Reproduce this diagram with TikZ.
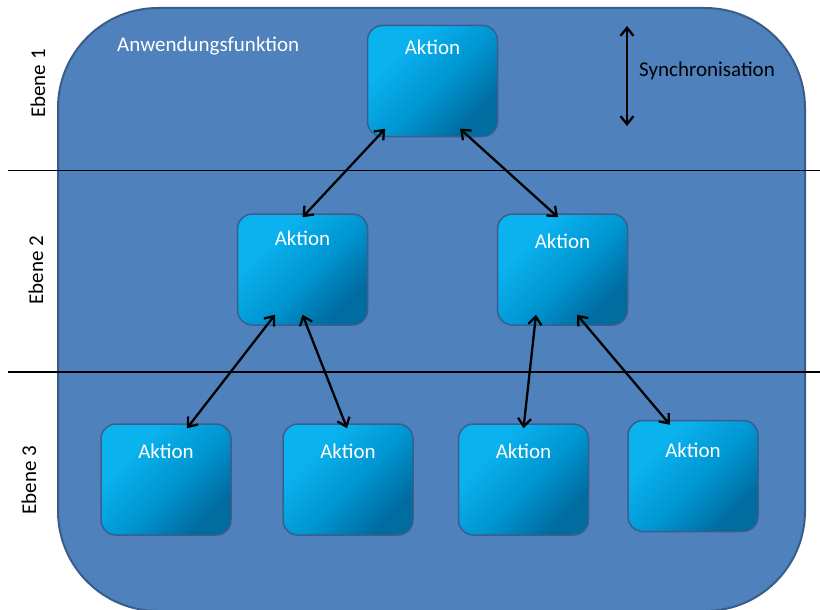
\documentclass[tikz,border=0pt]{standalone}
\usepackage{fontspec}
\setmainfont{Carlito}
\usetikzlibrary{arrows.meta,calc}
\definecolor{panelfill}{RGB}{79,129,189}
\definecolor{panelline}{RGB}{56,93,138}
\definecolor{boxlight}{RGB}{10,178,238}
\definecolor{boxmid}{RGB}{0,150,210}
\definecolor{boxdark}{RGB}{0,108,160}
\definecolor{boxline}{RGB}{58,94,142}
% diagonal fill of the action boxes: mostly bright, dark only towards one corner
\pgfdeclareverticalshading{aktionshade}{100bp}{%
  color(0bp)=(boxdark); color(27bp)=(boxdark); color(47bp)=(boxmid);
  color(68bp)=(boxlight); color(100bp)=(boxlight)}
\begin{document}
\begin{tikzpicture}[x=1pt,y=-1pt,
  font=\fontsize{21}{25}\selectfont,
  panel/.style={draw=panelline,line width=2pt,fill=panelfill,rounded corners=100pt},
  aktionbox/.style={draw=boxline,line width=1.5pt,rounded corners=15pt,
    minimum width=130pt,minimum height=111pt,inner sep=0pt,
    shading=aktionshade,shading angle=45},
  aktiontext/.style={text=white,anchor=base,inner sep=0pt},
  levellabel/.style={rotate=90,text=black,inner sep=0pt},
  divider/.style={draw=black,line width=1.3pt},
  link/.style={draw=black,line width=2.3pt,
    {Straight Barb[length=8pt,width=13pt,line width=2.3pt]}-{Straight Barb[length=8pt,width=13pt,line width=2.3pt]}}
]
\useasboundingbox (0,0) rectangle (820,610);

% outer panel
\draw[panel] (58,8) rectangle (805,611);

% level dividers
\coordinate (d1a) at (8,170.5);
\coordinate (d1b) at (820,170.5);
\coordinate (d2a) at (8,372);
\coordinate (d2b) at (820,372);
\draw[divider] (d1a) -- (d1b);
\draw[divider] (d2a) -- (d2b);

% level labels
\node[levellabel] (e1) at (38,83.5) {Ebene 1};
\node[levellabel] (e2) at (36,270) {Ebene 2};
\node[levellabel] (e3) at (29,480) {Ebene 3};

% panel title
\node[text=white,anchor=base west,inner sep=0pt] (title) at (117,52) {Anwendungsfunktion};

% synchronisation legend
\coordinate (s1) at (627,26);
\coordinate (s2) at (627,126);
\draw[link] (s1) -- (s2);
\node[anchor=base west,inner sep=0pt] (sync) at (639,77) {Synchronisation};

% action boxes
\node[aktionbox] (t)  at (432.5,81) {};
\node[aktionbox] (m1) at (302.5,269.5) {};
\node[aktionbox] (m2) at (562.5,269.5) {};
\node[aktionbox] (b1) at (166,479.5) {};
\node[aktionbox] (b2) at (348,479.5) {};
\node[aktionbox] (b3) at (523.5,479.5) {};
\node[aktionbox] (b4) at (693,476) {};

\node[aktiontext] (tt)  at ($(t.north)+(0,30)$) {Aktion};
\node[aktiontext] (m1t) at ($(m1.north)+(0,32)$) {Aktion};
\node[aktiontext] (m2t) at ($(m2.north)+(0,35)$) {Aktion};
\node[aktiontext] (b1t) at ($(b1.north)+(0,35)$) {Aktion};
\node[aktiontext] (b2t) at ($(b2.north)+(0,35)$) {Aktion};
\node[aktiontext] (b3t) at ($(b3.north)+(0,35)$) {Aktion};
\node[aktiontext] (b4t) at ($(b4.north)+(0,38)$) {Aktion};

% connectors between levels
\draw[link] ($(t.south west)+(18.5,-8.5)$) -- ($(m1.north)+(0,4)$);
\draw[link] ($(t.south)+(27.5,-8.5)$) -- ($(m2.north)+(-4.5,4)$);
\draw[link] ($(m1.south)+(-27.5,-11)$) -- ($(b1.north)+(21,5)$);
\draw[link] ($(m1.south)+(0,-11)$) -- ($(b2.north)+(-1,5)$);
\draw[link] ($(m2.south)+(-26.5,-11)$) -- ($(b3.north)+(0,5)$);
\draw[link] ($(m2.south)+(14.5,-11)$) -- ($(b4.north)+(-23,5)$);
\end{tikzpicture}
\end{document}
